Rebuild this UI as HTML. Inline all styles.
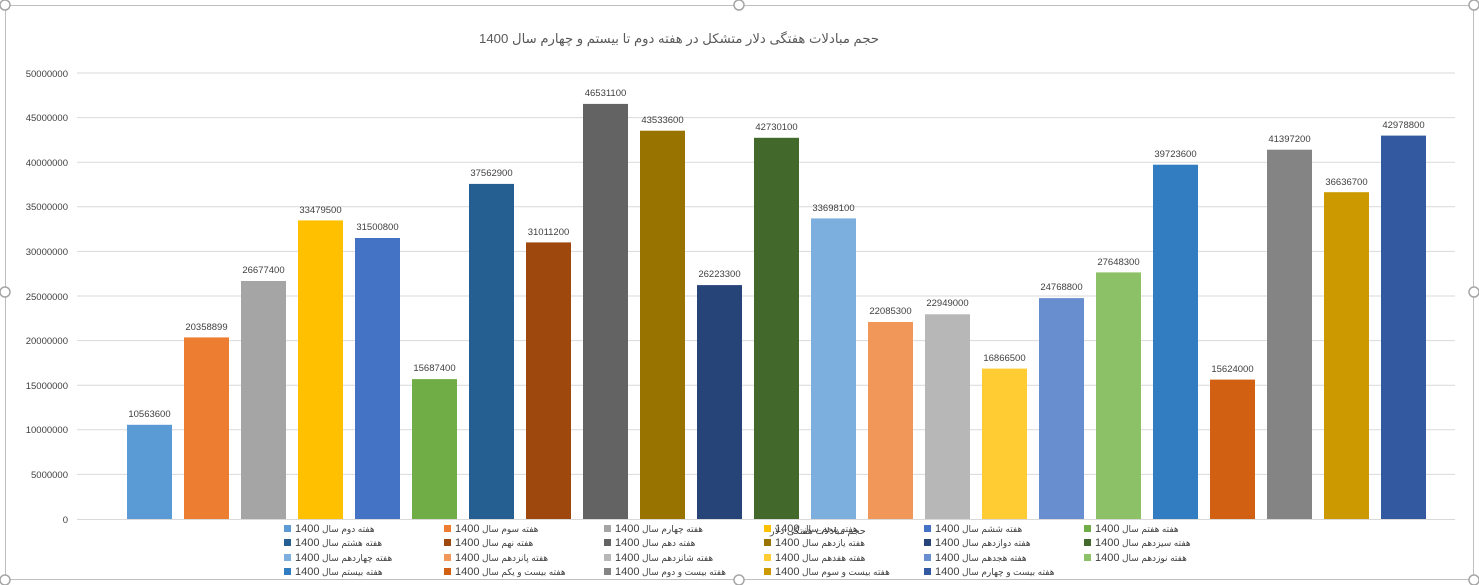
<!DOCTYPE html>
<html><head><meta charset="utf-8"><style>
body{margin:0;width:1479px;height:585px;background:#fff;overflow:hidden;position:relative;font-family:"Liberation Sans","DejaVu Sans",sans-serif}
.lg{position:absolute;font-size:9px;color:#404040;white-space:nowrap;line-height:12px}
.lg i{display:inline-block;width:7px;height:7px;margin-right:4px;vertical-align:0}
.lg b{font-weight:normal;font-size:11px}
</style></head><body>
<svg width="1479" height="585" style="position:absolute;left:0;top:0" font-family="Liberation Sans, DejaVu Sans, sans-serif">
<rect x="5.5" y="5.5" width="1468" height="574" fill="#fff" stroke="#bfbfbf"/>
<g stroke="#d9d9d9" stroke-width="1">
<line x1="77" x2="1455" y1="474.4" y2="474.4"/><line x1="77" x2="1455" y1="429.8" y2="429.8"/><line x1="77" x2="1455" y1="385.2" y2="385.2"/><line x1="77" x2="1455" y1="340.6" y2="340.6"/><line x1="77" x2="1455" y1="296" y2="296"/><line x1="77" x2="1455" y1="251.4" y2="251.4"/><line x1="77" x2="1455" y1="206.8" y2="206.8"/><line x1="77" x2="1455" y1="162.2" y2="162.2"/><line x1="77" x2="1455" y1="117.6" y2="117.6"/><line x1="77" x2="1455" y1="73" y2="73"/>
</g>
<line x1="77" x2="1455" y1="519.5" y2="519.5" stroke="#d9d9d9"/>
<g font-size="9.5" fill="#404040" text-anchor="end">
<text x="68" y="523">0</text><text x="68" y="478">5000000</text><text x="68" y="433">10000000</text><text x="68" y="389">15000000</text><text x="68" y="344">20000000</text><text x="68" y="300">25000000</text><text x="68" y="255">30000000</text><text x="68" y="210">35000000</text><text x="68" y="166">40000000</text><text x="68" y="121">45000000</text><text x="68" y="77">50000000</text>
</g>
<text x="679" y="43" font-size="13.2" fill="#595959" text-anchor="middle" direction="rtl">حجم مبادلات هفتگی دلار متشکل در هفته دوم تا بیستم و چهارم سال 1400</text>
<g>
<rect x="127" y="424.8" width="45" height="94.2" fill="#5B9BD5"/>
<rect x="184" y="337.4" width="45" height="181.6" fill="#ED7D31"/>
<rect x="241" y="281" width="45" height="238" fill="#A5A5A5"/>
<rect x="298" y="220.4" width="45" height="298.6" fill="#FFC000"/>
<rect x="355" y="238" width="45" height="281" fill="#4472C4"/>
<rect x="412" y="379.1" width="45" height="139.9" fill="#70AD47"/>
<rect x="469" y="183.9" width="45" height="335.1" fill="#255E91"/>
<rect x="526" y="242.4" width="45" height="276.6" fill="#9E480E"/>
<rect x="583" y="103.9" width="45" height="415.1" fill="#636363"/>
<rect x="640" y="130.7" width="45" height="388.3" fill="#997300"/>
<rect x="697" y="285.1" width="45" height="233.9" fill="#264478"/>
<rect x="754" y="137.8" width="45" height="381.2" fill="#43682B"/>
<rect x="811" y="218.4" width="45" height="300.6" fill="#7CAFDD"/>
<rect x="868" y="322" width="45" height="197" fill="#F1975A"/>
<rect x="925" y="314.3" width="45" height="204.7" fill="#B7B7B7"/>
<rect x="982" y="368.6" width="45" height="150.4" fill="#FFCD33"/>
<rect x="1039" y="298.1" width="45" height="220.9" fill="#698ED0"/>
<rect x="1096" y="272.4" width="45" height="246.6" fill="#8CC168"/>
<rect x="1153" y="164.7" width="45" height="354.3" fill="#327DC2"/>
<rect x="1210" y="379.6" width="45" height="139.4" fill="#D26012"/>
<rect x="1267" y="149.7" width="45" height="369.3" fill="#848484"/>
<rect x="1324" y="192.2" width="45" height="326.8" fill="#CC9A00"/>
<rect x="1381" y="135.6" width="45" height="383.4" fill="#335AA1"/>
</g>
<g font-size="9.5" fill="#404040" text-anchor="middle">
<text x="149.5" y="417">10563600</text>
<text x="206.5" y="330">20358899</text>
<text x="263.5" y="273">26677400</text>
<text x="320.5" y="213">33479500</text>
<text x="377.5" y="230">31500800</text>
<text x="434.5" y="371">15687400</text>
<text x="491.5" y="176">37562900</text>
<text x="548.5" y="235">31011200</text>
<text x="605.5" y="96">46531100</text>
<text x="662.5" y="123">43533600</text>
<text x="719.5" y="277">26223300</text>
<text x="776.5" y="130">42730100</text>
<text x="833.5" y="211">33698100</text>
<text x="890.5" y="314">22085300</text>
<text x="947.5" y="306">22949000</text>
<text x="1004.5" y="361">16866500</text>
<text x="1061.5" y="290">24768800</text>
<text x="1118.5" y="265">27648300</text>
<text x="1175.5" y="157">39723600</text>
<text x="1232.5" y="372">15624000</text>
<text x="1289.5" y="142">41397200</text>
<text x="1346.5" y="185">36636700</text>
<text x="1403.5" y="128">42978800</text>
</g>
<text x="770" y="534" font-size="9.5" fill="#404040" text-anchor="end" direction="rtl">حجم مبادلات هفتگی دلار</text>
<g fill="#fff" stroke="#a6a6a6" stroke-width="1.5">
<circle cx="5" cy="5" r="5"/><circle cx="739" cy="5" r="5"/><circle cx="1474" cy="5" r="5"/>
<circle cx="5" cy="292" r="5"/><circle cx="1474" cy="292" r="5"/>
<circle cx="5" cy="580" r="5"/><circle cx="739" cy="580" r="5"/><circle cx="1474" cy="580" r="5"/>
</g>
</svg>
<div class="lg" style="left:284px;top:523px"><i style="background:#5B9BD5"></i><b>1400</b> <span dir="rtl">هفته دوم سال</span></div>
<div class="lg" style="left:444px;top:523px"><i style="background:#ED7D31"></i><b>1400</b> <span dir="rtl">هفته سوم سال</span></div>
<div class="lg" style="left:604px;top:523px"><i style="background:#A5A5A5"></i><b>1400</b> <span dir="rtl">هفته چهارم سال</span></div>
<div class="lg" style="left:764px;top:523px"><i style="background:#FFC000"></i><b>1400</b> <span dir="rtl">هفته پنجم سال</span></div>
<div class="lg" style="left:924px;top:523px"><i style="background:#4472C4"></i><b>1400</b> <span dir="rtl">هفته ششم سال</span></div>
<div class="lg" style="left:1084px;top:523px"><i style="background:#70AD47"></i><b>1400</b> <span dir="rtl">هفته هفتم سال</span></div>
<div class="lg" style="left:284px;top:537px"><i style="background:#255E91"></i><b>1400</b> <span dir="rtl">هفته هشتم سال</span></div>
<div class="lg" style="left:444px;top:537px"><i style="background:#9E480E"></i><b>1400</b> <span dir="rtl">هفته نهم سال</span></div>
<div class="lg" style="left:604px;top:537px"><i style="background:#636363"></i><b>1400</b> <span dir="rtl">هفته دهم سال</span></div>
<div class="lg" style="left:764px;top:537px"><i style="background:#997300"></i><b>1400</b> <span dir="rtl">هفته یازدهم سال</span></div>
<div class="lg" style="left:924px;top:537px"><i style="background:#264478"></i><b>1400</b> <span dir="rtl">هفته دوازدهم سال</span></div>
<div class="lg" style="left:1084px;top:537px"><i style="background:#43682B"></i><b>1400</b> <span dir="rtl">هفته سیزدهم سال</span></div>
<div class="lg" style="left:284px;top:552px"><i style="background:#7CAFDD"></i><b>1400</b> <span dir="rtl">هفته چهاردهم سال</span></div>
<div class="lg" style="left:444px;top:552px"><i style="background:#F1975A"></i><b>1400</b> <span dir="rtl">هفته پانزدهم سال</span></div>
<div class="lg" style="left:604px;top:552px"><i style="background:#B7B7B7"></i><b>1400</b> <span dir="rtl">هفته شانزدهم سال</span></div>
<div class="lg" style="left:764px;top:552px"><i style="background:#FFCD33"></i><b>1400</b> <span dir="rtl">هفته هفدهم سال</span></div>
<div class="lg" style="left:924px;top:552px"><i style="background:#698ED0"></i><b>1400</b> <span dir="rtl">هفته هجدهم سال</span></div>
<div class="lg" style="left:1084px;top:552px"><i style="background:#8CC168"></i><b>1400</b> <span dir="rtl">هفته نوزدهم سال</span></div>
<div class="lg" style="left:284px;top:566px"><i style="background:#327DC2"></i><b>1400</b> <span dir="rtl">هفته بیستم سال</span></div>
<div class="lg" style="left:444px;top:566px"><i style="background:#D26012"></i><b>1400</b> <span dir="rtl">هفته بیست و یکم سال</span></div>
<div class="lg" style="left:604px;top:566px"><i style="background:#848484"></i><b>1400</b> <span dir="rtl">هفته بیست و دوم سال</span></div>
<div class="lg" style="left:764px;top:566px"><i style="background:#CC9A00"></i><b>1400</b> <span dir="rtl">هفته بیست و سوم سال</span></div>
<div class="lg" style="left:924px;top:566px"><i style="background:#335AA1"></i><b>1400</b> <span dir="rtl">هفته بیست و چهارم سال</span></div>
</body></html>
